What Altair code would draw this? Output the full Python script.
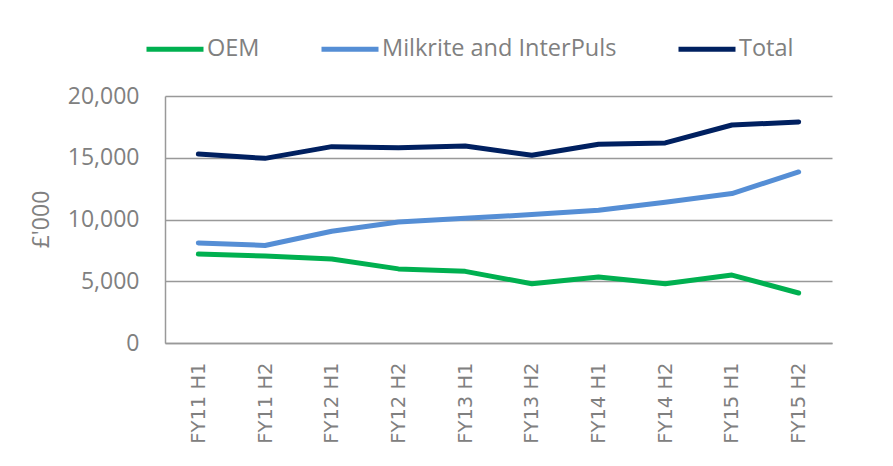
import altair as alt
import pandas as pd

periods = ["FY11 H1", "FY11 H2", "FY12 H1", "FY12 H2", "FY13 H1",
           "FY13 H2", "FY14 H1", "FY14 H2", "FY15 H1", "FY15 H2"]
series_names = ["OEM", "Milkrite and InterPuls", "Total"]
oem = [7200, 7050, 6800, 6000, 5800, 4800, 5350, 4800, 5500, 4050]
milkrite = [8100, 7900, 9050, 9800, 10100, 10400, 10750, 11400, 12100, 13850]
total = [15300, 14950, 15900, 15800, 15950, 15200, 16100, 16200, 17650, 17900]
colors = ["#00B050", "#558ED5", "#002060"]

rows = []
for name, vals in zip(series_names, [oem, milkrite, total]):
    for p, v in zip(periods, vals):
        rows.append({"period": p, "series": name, "value": v})
df = pd.DataFrame(rows)

gray = "#808080"
font = "Open Sans"

chart = alt.Chart(df).mark_line(strokeWidth=5, strokeCap="round", strokeJoin="round").encode(
    x=alt.X("period:N", sort=periods,
            scale=alt.Scale(type="point", padding=0.5),
            axis=alt.Axis(title=None, labelAngle=-90, labelAlign="right", labelBaseline="middle",
                          labelFont="DejaVu Sans", labelFontSize=19.5, labelColor=gray,
                          labelPadding=19, ticks=False, domainColor="#999999", domainWidth=1.5,
                          grid=False)),
    y=alt.Y("value:Q",
            scale=alt.Scale(domain=[0, 20000], nice=False, zero=True),
            axis=alt.Axis(title="£'000", values=[0, 5000, 10000, 15000, 20000], format=",.0f",
                          labelFont=font, labelFontSize=23, labelColor=gray, labelPadding=26,
                          ticks=False, domainColor="#999999", domainWidth=1.5,
                          gridColor="#999999", gridWidth=1.5,
                          titleFont=font, titleFontSize=23, titleColor=gray,
                          titleFontWeight="normal", titleX=-124, titleY=123, titleAngle=-90,
                          titleAlign="center", titleBaseline="middle")),
    color=alt.Color("series:N", sort=series_names,
                    scale=alt.Scale(domain=series_names, range=colors),
                    legend=alt.Legend(title=None, orient="none", legendX=-21, legendY=-78,
                                      direction="horizontal", symbolType="stroke",
                                      symbolSize=3249, symbolStrokeWidth=5,
                                      labelFont=font, labelFontSize=23.5, labelColor=gray,
                                      labelOffset=1, labelLimit=400, columnPadding=51)),
).properties(
    width=667, height=247,
    autosize=alt.AutoSizeParams(type="none"),
    padding={"left": 157, "top": 88, "right": 45, "bottom": 115},
).configure_view(stroke=None)

chart.save("out.html", embed_options={"renderer": "svg", "actions": False})
